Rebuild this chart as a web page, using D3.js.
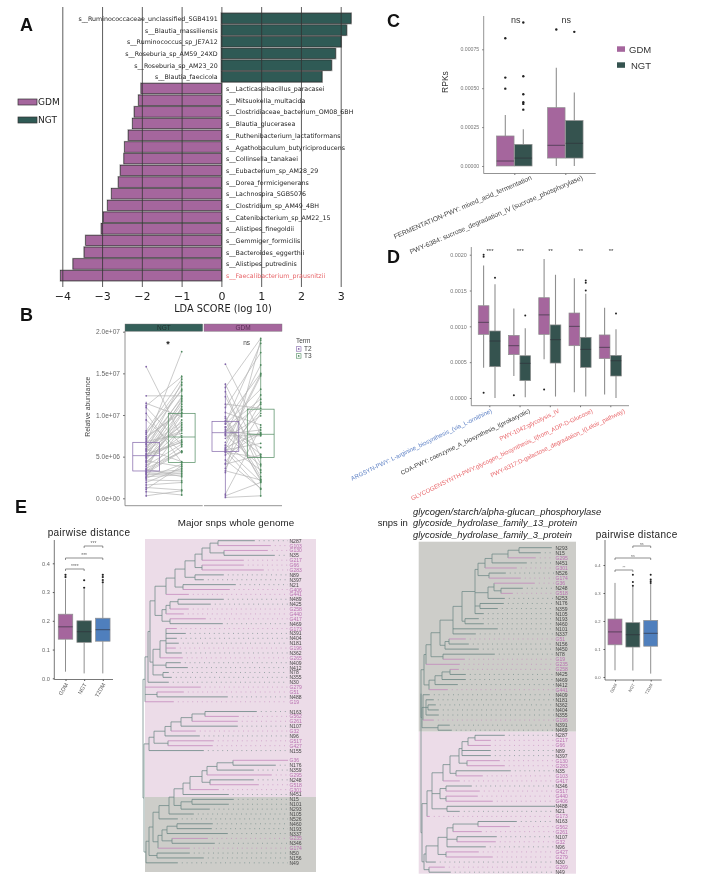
<!DOCTYPE html>
<html><head><meta charset="utf-8">
<script src="https://cdnjs.cloudflare.com/ajax/libs/d3/7.8.5/d3.min.js"></script>
<style>html,body{margin:0;padding:0;background:#fff}svg{display:block;filter:blur(0.4px)}text{font-family:"Liberation Sans",Arial,sans-serif}</style>
</head><body><svg id="c" width="708" height="892"></svg>
<script>
const GDMC="#a5669d",NGTC="#35534f",BLUEC="#4f7fbd",RED="#e8666a";
// Panel A
const ngtTaxa=["s__Ruminococcaceae_unclassified_SGB4191","s__Blautia_massiliensis","s__Ruminococcus_sp_JE7A12","s__Roseburia_sp_AM59_24XD","s__Roseburia_sp_AM23_20","s__Blautia_faecicola"];
const ngtLDA=[3.26,3.15,3.01,2.87,2.77,2.53];
const gdmTaxa=["s__Lacticaseibacillus_paracasei","s__Mitsuokella_multacida","s__Clostridiaceae_bacterium_OM08_6BH","s__Blautia_glucerasea","s__Ruthenibacterium_lactatiformans","s__Agathobaculum_butyriciproducens","s__Collinsella_tanakaei","s__Eubacterium_sp_AM28_29","s__Dorea_formicigenerans","s__Lachnospira_SGB5076","s__Clostridium_sp_AM49_4BH","s__Catenibacterium_sp_AM22_15","s__Alistipes_finegoldii","s__Gemmiger_formicilis","s__Bacteroides_eggerthii","s__Alistipes_putredinis","s__Faecalibacterium_prausnitzii"];
const gdmLDA=[-2.02,-2.08,-2.19,-2.23,-2.34,-2.43,-2.45,-2.54,-2.59,-2.76,-2.86,-2.97,-3.02,-3.41,-3.45,-3.73,-4.04];
const ldaTicks=[-4,-3,-2,-1,0,1,2,3];
// Panel C: [lo,q1,med,q3,hi]
const cGroups=["FERMENTATION-PWY: mixed_acid_fermentation","PWY-6384: sucrose_degradation_IV (sucrose_phosphorylase)"];
const cGDM=[[0,0,.000032,.000193,.000328],[0,.000051,.000133,.000375,.000632]];
const cNGT=[[0,0,.000051,.000139,.000236],[0,.000051,.000146,.000292,.000472]];
const cGDMout=[[.000497,.000568,.000821],[.000877]];
const cNGTout=[[.000362,.000399,.00041,.000461,.000577,.000922],[.000862]];
const cTicks=[0,.00025,.0005,.00075];
// Panel D
const dGroups=["ARGSYN-PWY: L-arginine_biosynthesis_(via_L-ornithine)","COA-PWY: coenzyme_A_biosynthesis_I(prokaryotic)","PWY-1042:glycolysis_IV","GLYCOGENSYNTH-PWY:glycogen_biosynthesis_I(from_ADP-D-Glucose)","PWY-6317:D-galactose_degradation_I(Leloir_pathway)"];
const dColors=["#5b7fc4","#333333",RED,RED,RED];
const dSig=["***","***","**","**","**"];
const dGDM=[[.000423,.000888,.001056,.001288,.00185],[.000307,.000605,.00073,.000874,.00125],[.00054,.000888,.00116,.0014,.00194],[.00008,.00073,.001,.001186,.00167],[.00005,.00055,.000707,.00088,.00126]];
const dNGT=[[0,.000437,.000795,.000935,.001586],[.00001,.000242,.000484,.00059,.000972],[.00002,.000488,.000814,.00102,.00172],[.00002,.000428,.000679,.000847,.001456],[0,.000307,.00052,.000595,.00096]];
const dGDMout=[[.000074,.00197,.002],[.000037],[.00012],[],[]];
const dNGTout=[[.00168],[.00115],[],[.0015,.00161,.00164],[.00118]];
const dTicks=[0,.0005,.001,.0015,.002];
// Panel B (values in millions)
const bNgtT2=[15.8,12.3,11.4,11.1,10.9,8.1,7.7,7.4,7.0,6.8,6.6,6.2,6.0,5.9,5.7,5.6,5.4,5.2,5.1,5.0,4.8,4.6,4.5,4.3,4.1,3.9,3.6,3.4,3.3,3.1,3.0,2.8,2.6,2.4,2.2,1.9,1.6,1.3,0.8,0.3,7.9,7.2,6.5,6.4,5.8,5.3,4.9,4.4,3.8,3.5,3.2,2.9,2.5,1.1,10.2,9.4];
const bNgtT3=[7.3,12.3,9.8,14.6,6.4,14.3,13.6,10.3,13.1,7.8,17.6,9.1,12.2,4.4,11.6,8.7,11.3,7.0,10.7,6.8,8.9,10.2,3.8,8.3,9.4,6.5,5.6,11.0,6.2,3.4,5.6,3.0,2.8,4.1,2.1,3.6,1.9,1.0,0.4,0.9,12.9,10.6,12.0,8.1,13.9,6.7,11.8,7.5,10.0,2.6,5.7,3.2,8.5,3.9,4.3,5.5];
const bGdmT2=[16.1,13.7,13.3,12.8,11.3,10.3,9.6,9.3,9.2,9.0,8.6,8.5,8.1,8.0,7.8,7.7,7.6,7.5,6.3,6.1,6.0,5.8,5.7,5.6,5.5,4.2,4.1,3.3,3.1,0.5,0.3,0.1,12.2,10.9,9.8,8.9,8.3,7.2,6.7,6.4,5.9,5.2,4.6,3.6];
const bGdmT3=[7.7,5.0,19.2,3.1,10.8,8.8,2.1,15.0,2.3,18.6,5.3,11.9,7.6,11.3,16.0,8.2,3.9,7.5,14.7,7.9,2.0,6.6,1.1,10.5,4.9,11.5,5.2,2.2,19.0,8.5,1.9,0.3,4.1,17.5,2.6,13.1,6.1,9.9,14.9,3.4,12.4,7.8,1.2,10.2];
const bBoxes=[[.2,3.28,5.12,6.72,11.6],[.3,4.28,7.36,10.2,14.8],[.1,5.64,7.88,9.24,13.8],[.2,4.88,7.68,10.7,19.2]];
const bTicks=[0,5,10,15,20];
const bTickLabels=["0.0e+00","5.0e+06","1.0e+07","1.5e+07","2.0e+07"];
// Panel E boxes
const eCats=["GDM","NGT","T2DM"];
const eLeft=[[.023,.136,.179,.223,.345],[.017,.125,.162,.2,.31],[.017,.129,.169,.209,.33]];
const eLeftOut=[[.352,.36],[.315,.341],[.334,.342,.352,.36]];
const eRight=[[.024,.115,.161,.207,.336],[.023,.107,.151,.194,.324],[.012,.11,.156,.202,.333]];
const eRightOut=[[],[.326,.339,.365],[.336,.342,.348,.365]];
const eTicks=[0,.1,.2,.3,.4];
const eLeftSig=["****","***","***"], eRightSig=["**","ns","ns"];
// Trees: label:divergence from root
const lA=`((N287:111,G103:127):75,(G130:124,N35:131):81):67`;
const lB=`((${lA},G217:100):59,(G66:100,G283:120):59):52`;
const lC=`(${lB},(N89:80,N397:60):52):42`;
const lD=`((${lC},(N21:92,G406:86):40):32,G441:45):23`;
const lE=`((((N489:80,N425:67):35,G258:45):27,G440:40):23,(G417:62,N469:79):27):19`;
const lF=`((${lD},${lE}):12,(((G173:33,N391:42,N404:33,N181:35,G196:32,N362:38):23,G265:39):17,(N409:37,N412:44):23,(N78:25,N355:28):20):10):7`;
const lG1=`((${lF},N30:25):5,G279:57,(G51:40,N488:84):14,G19:30):2`;
const lG2=`(((((((N163:113,G562:95):62,G261:94):49,N107:94):38,G32:52):28,N96:56):22,(G517:70,G427:69):25):11,N155:60):6`;
const lG3a=`(((((((G36:145,N176:132):90,N359:110):74,G295:128):64,(N248:110,G518:115):67):59,G301:75):47,N451:85):40,((N15:90,N101:85):49,N293:66):38):31`;
const lG3b=`(((${lG3a},N105:50):26,N526:34):16,((((N460:69,N193:68):34,N337:84):24,(G235:64,N346:71):29):19,G174:46):15):10`;
const lG3=`((${lG3b},(N50:46,N156:60):14):6,N49:34):3`;
const leftTree=`(${lG1},(${lG2},${lG3}):1):0`;
const leftGaps=["G19","N155"];
const rA=`(((N293:130,N15:119):98,G295:114):87,N451:105):71`;
const rC=`((${rA},G301:95):64,(N526:84,G174:99):68):57`;
const rD=`((G36:113,(N248:101,G518:91):80):73,N253:83):67`;
const rE=`(${rC},${rD},(N176:82,N359:76):59,N105:62):54`;
const rF=`(${rE},(N193:57,N460:62):44):41`;
const rG=`(${rF},N101:76,N337:54):32`;
const rH=`(${rG},((G51:44,N156:47):28,N450:57):24):19`;
const rJ=`((${rH},(N78:73,G19:43):22):10,G235:38):5`;
const rK=`((((G258:37,N425:44):29,N469:44):21,N412:36):14,G441:26):8`;
const rL=`(N409:8,(N181:12,(N362:14,N404:17):7,N355:17):5,G196:12):2`;
const rM=`(N391:28,N469:30):17`;
const rX=`(((N287:83,G217:69):54,G66:69):47,N89:69,N397:69):41`;
const rP=`((((${rX},(G130:78,G283:83):46):38,(N35:89,G103:61):35):29,G417:38):22`+`,((N346:50,G517:58):25,(G440:56,G406:71):25):19,(N488:134,N21:38):26):11`;
const rS=`((((N163:95,G562:88):57,G261:60):32,(N107:75,G32:74):36,N96:64):26,(G427:57,G279:71):25):17`;
const rightTree=`(((${rJ},${rK}):3,(${rL},${rM}):1):0,((${rP},G173:8):6,((${rS},N30:14):5,(G269:23,N49:29):8):3):1):0`;

const svg=d3.select("#c");
function txt(x,y,s,size,o={}){const t=svg.append("text").attr("x",x).attr("y",y).attr("font-size",size).attr("fill",o.fill||"#222").attr("text-anchor",o.anchor||"start").attr("dominant-baseline","central").text(s);
 if(o.weight)t.attr("font-weight",o.weight);if(o.style)t.attr("font-style",o.style);if(o.family)t.style("font-family",o.family);if(o.rot!=null)t.attr("transform",`rotate(${o.rot} ${x} ${y})`);if(o.ls)t.attr("letter-spacing",o.ls);return t;}
function axisStyle(g,c,w){g.selectAll(".domain").attr("stroke",c).attr("stroke-width",w);g.selectAll("line").attr("stroke",c);}
function box(x,w,s,y,fill,outs,o={}){const sw=o.sw||1.1,wc=o.wc||"#8f8f8f";
 const g=svg.append("g");
 g.append("line").attr("x1",x).attr("x2",x).attr("y1",y(s[0])).attr("y2",y(s[1])).attr("stroke",wc).attr("stroke-width",sw);
 g.append("line").attr("x1",x).attr("x2",x).attr("y1",y(s[3])).attr("y2",y(s[4])).attr("stroke",wc).attr("stroke-width",sw);
 g.append("rect").attr("x",x-w/2).attr("width",w).attr("y",y(s[3])).attr("height",y(s[1])-y(s[3])).attr("fill",fill).attr("stroke",o.bc||"#8f8f8f").attr("stroke-width",.7);
 g.append("line").attr("x1",x-w/2).attr("x2",x+w/2).attr("y1",y(s[2])).attr("y2",y(s[2])).attr("stroke",o.mc||"#2f2f38").attr("stroke-width",.8).attr("opacity",.8);
 g.selectAll("circle").data(outs||[]).join("circle").attr("cx",x).attr("cy",d=>y(d)).attr("r",o.r||1.2).attr("fill","#222");
}
// Letters
[["A",20,25],["B",20,315],["C",387,21],["D",387,257],["E",15,507]].forEach(d=>txt(d[1],d[2],d[0],18,{weight:"bold",fill:"#111"}));

// ===== A
{const x=d3.scaleLinear().domain([-4,3]).range([62.3,340.7]);
 const rows=[...ngtTaxa,...gdmTaxa];
 const y=d3.scaleBand().domain(rows).range([13.2,280.8]).paddingInner(.12);
 const vals=[...ngtLDA,...gdmLDA];
 svg.append("g").selectAll("rect").data(rows).join("rect").attr("x",(d,i)=>x(Math.min(0,vals[i]))).attr("width",(d,i)=>Math.abs(x(vals[i])-x(0))).attr("y",d=>y(d)).attr("height",y.bandwidth()).attr("fill","none").attr("stroke","#a8a8a8").attr("stroke-width",1.9);
 svg.append("g").selectAll("rect").data(rows).join("rect").attr("x",(d,i)=>x(Math.min(0,vals[i]))).attr("width",(d,i)=>Math.abs(x(vals[i])-x(0))).attr("y",d=>y(d)).attr("height",y.bandwidth()).attr("fill",(d,i)=>vals[i]>0?"#2f5a55":"#a5669d").attr("stroke","#222").attr("stroke-width",.5);
 const ax=d3.axisBottom(x).tickValues(ldaTicks).tickSize(280).tickFormat(d=>d<0?"\u2212"+(-d):d);
 const g=svg.append("g").attr("transform","translate(0,7)").call(ax);
 g.select(".domain").remove();
 g.selectAll("line").attr("stroke","#333").attr("stroke-width",.8);
 g.selectAll("text").attr("font-size",11).attr("fill","#222").attr("dy",0).attr("y",293).style("font-family","DejaVu Sans");
 rows.forEach((r,i)=>{const neg=vals[i]<0;txt(neg?226:217.7,y(r)+y.bandwidth()/2,r,6.3,{anchor:neg?"start":"end",fill:r.includes("Faecali")?RED:"#222",family:"DejaVu Sans"});});
 [["GDM","#a5669d",102],["NGT","#2f5a55",120]].forEach(d=>{svg.append("rect").attr("x",18).attr("y",d[2]-3).attr("width",19).attr("height",6).attr("fill",d[1]).attr("stroke","#333").attr("stroke-width",.7);txt(38,d[2],d[0],9,{family:"DejaVu Sans"});});
 txt(223,308,"LDA SCORE (log 10)",9.8,{anchor:"middle",family:"DejaVu Sans",fill:"#222"});
}
// ===== B
{const y=d3.scaleLinear().domain([0,20]).range([498.3,331.7]);
 const panels=[{n:"NGT",c:"#35605a",x0:125,x1:202.7,t2:146.2,t3:181.7,a:bNgtT2,b:bNgtT3,bx:[bBoxes[0],bBoxes[1]]},{n:"GDM",c:"#a5669d",x0:204,x1:282,t2:225.4,t3:260.7,a:bGdmT2,b:bGdmT3,bx:[bBoxes[2],bBoxes[3]]}];
 const P="#8064a8",G="#4f8a5f";
 panels.forEach(p=>{
  svg.append("rect").attr("x",p.x0).attr("y",324).attr("width",p.x1-p.x0).attr("height",7.3).attr("fill",p.c).attr("stroke","#777").attr("stroke-width",.4);
  txt((p.x0+p.x1)/2,327.8,p.n,6.5,{anchor:"middle",fill:p.n=="NGT"?"#1f2f2d":"#5a2f55"});
  svg.append("line").attr("x1",p.x0).attr("x2",p.x1).attr("y1",505.7).attr("y2",505.7).attr("stroke","#777").attr("stroke-width",.8);
  const gl=svg.append("g");
  gl.selectAll("line").data(p.a).join("line").attr("x1",p.t2).attr("x2",p.t3).attr("y1",d=>y(d)).attr("y2",(d,i)=>y(p.b[i])).attr("stroke","#b4b4b4").attr("stroke-width",.7);
  [[p.t2,p.bx[0],P,p.a],[p.t3,p.bx[1],G,p.b]].forEach(q=>{const s=q[1],w=26.8,g=svg.append("g").attr("fill","none").attr("stroke",q[2]).attr("stroke-width",.7);
   g.append("line").attr("x1",q[0]).attr("x2",q[0]).attr("y1",y(s[0])).attr("y2",y(s[1]));
   g.append("line").attr("x1",q[0]).attr("x2",q[0]).attr("y1",y(s[3])).attr("y2",y(s[4]));
   g.append("rect").attr("x",q[0]-w/2).attr("width",w).attr("y",y(s[3])).attr("height",y(s[1])-y(s[3]));
   g.append("line").attr("x1",q[0]-w/2).attr("x2",q[0]+w/2).attr("y1",y(s[2])).attr("y2",y(s[2]));
   svg.append("g").selectAll("circle").data(q[3]).join("circle").attr("cx",q[0]).attr("cy",d=>y(d)).attr("r",.9).attr("fill",q[2]);
  });
 });
 const ax=d3.axisLeft(y).tickValues(bTicks).tickFormat((d,i)=>bTickLabels[i]).tickSize(2);
 const g=svg.append("g").attr("transform","translate(125,0)").call(ax);
 g.select(".domain").attr("d","M0,331V505.7");axisStyle(g,"#777",.8);
 g.selectAll("text").attr("font-size",6.6).attr("fill","#666");
 txt(88,406.7,"Relative abundance",6.8,{anchor:"middle",rot:-90,fill:"#444"});
 txt(168,344,"*",9,{anchor:"middle",weight:"bold"});txt(246.7,342.5,"ns",6.5,{anchor:"middle",fill:"#444"});
 txt(296,340.7,"Term",6.5,{fill:"#444"});
 [["T2",P,348.7],["T3",G,355.7]].forEach(d=>{svg.append("rect").attr("x",296.5).attr("y",d[2]-2).attr("width",4.5).attr("height",4.5).attr("fill","#fff").attr("stroke",d[1]).attr("stroke-width",.6);
  svg.append("circle").attr("cx",298.7).attr("cy",d[2]+.2).attr("r",.9).attr("fill",d[1]);txt(304,d[2],d[0],6.5,{fill:"#444"});});
}
// ===== C
{const y=d3.scaleLinear().domain([0,.00075]).range([166,49.3]);
 const x=d3.scalePoint().domain(cGroups).range([514.3,565.3]);
 cGroups.forEach((c,i)=>{box(x(c)-9,17.5,cGDM[i],y,GDMC,cGDMout[i]);box(x(c)+9,17.5,cNGT[i],y,NGTC,cNGTout[i]);});
 const g=svg.append("g").attr("transform","translate(483.7,0)").call(d3.axisLeft(y).tickValues(cTicks).tickFormat(d3.format(".5f")).tickSize(1.5));
 g.select(".domain").attr("d","M0,16V173.5");axisStyle(g,"#777",.8);g.selectAll("text").attr("font-size",5.2).attr("fill","#777");
 const gx=svg.append("g").attr("transform","translate(0,173.5)").call(d3.axisBottom(x).tickSize(1.5).tickFormat(""));
 gx.select(".domain").attr("d","M483.7,0H595.7");axisStyle(gx,"#777",.8);
 cGroups.forEach(c=>txt(x(c)+17,177,c,6.8,{anchor:"end",rot:-23.5,fill:"#444"}));
 txt(445,82,"RPKs",8.5,{anchor:"middle",rot:-90,fill:"#333"});
 txt(515.7,20,"ns",9,{anchor:"middle",fill:"#333"});txt(566.3,20,"ns",9,{anchor:"middle",fill:"#333"});
 [["GDM",GDMC,49,629],["NGT",NGTC,65,631]].forEach(d=>{svg.append("rect").attr("x",617).attr("y",d[2]-2.7).attr("width",8).attr("height",5.5).attr("fill",d[1]);txt(d[3],d[2],d[0],9.5,{fill:"#333"});});
}
// ===== D
{const y=d3.scaleLinear().domain([0,.002]).range([398,254.7]);
 const x=d3.scalePoint().domain(dGroups).range([489.3,610.3]);
 dGroups.forEach((c,i)=>{box(x(c)-5.7,10.7,dGDM[i],y,GDMC,dGDMout[i],{r:1});box(x(c)+5.7,10.7,dNGT[i],y,NGTC,dNGTout[i],{r:1});txt(x(c)+.7,250.5,dSig[i],6,{anchor:"middle",fill:"#333"});});
 const g=svg.append("g").attr("transform","translate(471.3,0)").call(d3.axisLeft(y).tickValues(dTicks).tickFormat(d3.format(".4f")).tickSize(1.5));
 g.select(".domain").attr("d","M0,247V405.7");axisStyle(g,"#777",.8);g.selectAll("text").attr("font-size",5.4).attr("fill","#777");
 const gx=svg.append("g").attr("transform","translate(0,405.7)").call(d3.axisBottom(x).tickSize(1.5).tickFormat(""));
 gx.select(".domain").attr("d","M471.3,0H629");axisStyle(gx,"#777",.8);
 dGroups.forEach((c,i)=>txt(x(c)+[2,10,9,12,14][i],410,c,6.1,{anchor:"end",rot:-26,fill:dColors[i]}));
}
// ===== E boxes
function ePanel(o){const y=d3.scaleLinear().domain([0,.4]).range(o.yr);
 const x=d3.scalePoint().domain(eCats).range(o.xr);
 const cols=[GDMC,NGTC,BLUEC];
 eCats.forEach((c,i)=>box(x(c),o.w,o.data[i],y,cols[i],o.out[i],{r:o.r,sw:1}));
 const g=svg.append("g").attr("transform",`translate(${o.ax},0)`).call(d3.axisLeft(y).tickValues(eTicks).tickFormat(d3.format(".1f")).tickSize(1.5));
 g.select(".domain").attr("d",`M0,${o.top}V${o.bot}`);axisStyle(g,"#555",.8);g.selectAll("text").attr("font-size",o.fs).attr("fill","#666");
 const gx=svg.append("g").attr("transform",`translate(0,${o.bot})`).call(d3.axisBottom(x).tickSize(1.5).tickFormat(""));
 gx.select(".domain").attr("d",`M${o.ax},0H${o.axEnd}`);axisStyle(gx,"#555",.8);
 eCats.forEach(c=>txt(x(c)+1,o.bot+4,c,o.fs,{anchor:"end",rot:-60,fill:"#555"}));
 o.br.forEach((b,i)=>{const x1=x(eCats[b[0]]),x2=x(eCats[b[1]]),yy=b[2];
  svg.append("path").attr("d",`M${x1},${yy+2}V${yy}H${x2}V${yy+2}`).attr("fill","none").attr("stroke","#444").attr("stroke-width",.6);
  txt((x1+x2)/2,yy-2.2,o.sig[i],o.fs-.7,{anchor:"middle",fill:"#666"});});
 txt(o.tx,o.ty,"pairwise distance",o.ts,{fill:"#222",ls:o.ls});
}
ePanel({yr:[678.3,563.3],xr:[65.5,102.8],w:14.5,data:eLeft,out:eLeftOut,r:1.1,ax:54.3,axEnd:113,top:540,bot:679.5,fs:5.6,br:[[0,1,569],[0,2,558],[1,2,546]],sig:eLeftSig,tx:47.7,ty:532,ts:10,ls:.35});
ePanel({yr:[677,565],xr:[615,650.7],w:14,data:eRight,out:eRightOut,r:1,ax:605,axEnd:661.7,top:540,bot:680,fs:4.2,br:[[0,1,570],[0,2,558],[1,2,546]],sig:eRightSig,tx:595.7,ty:534,ts:10,ls:.3});
// ===== Trees
function parseNewick(s){let i=0;function node(){const n={};if(s[i]=="("){n.children=[];i++;while(true){n.children.push(node());if(s[i]==","){i++;continue;}i++;break;}}
 let st=i;while(i<s.length&&!":,()".includes(s[i]))i++;n.name=s.slice(st,i);if(s[i]==":"){i++;st=i;while(i<s.length&&!",()".includes(s[i]))i++;n.div=+s.slice(st,i);}return n;}return node();}
function drawTree(o){const root=d3.hierarchy(parseNewick(o.tree));
 const x=d3.scaleLinear().domain(o.xd).range(o.xr);
 const rowY=d3.scaleLinear().domain([0,o.rows-1]).range(o.yr);
 let r=0;root.leaves().forEach(l=>{l.row=r++;if(o.gaps&&o.gaps.includes(l.data.name))r++;});
 root.eachAfter(n=>{if(n.children)n.row=(n.children[0].row+n.children[n.children.length-1].row)/2;});
 const GR="#6f8a87",PK="#c184ba";
 const col=n=>n.children?GR:(n.data.name[0]=="G"?PK:"#63807d");
 const g=svg.append("g").attr("fill","none").attr("stroke-width",.75);
 root.descendants().forEach(n=>{const nx=x(n.data.div||0),ny=rowY(n.row);
  if(n.parent){g.append("line").attr("x1",x(n.parent.data.div||0)).attr("x2",nx).attr("y1",ny).attr("y2",ny).attr("stroke",col(n));}
  if(n.children){g.append("line").attr("x1",nx).attr("x2",nx).attr("y1",rowY(n.children[0].row)).attr("y2",rowY(n.children[n.children.length-1].row)).attr("stroke",GR);}
  else{g.append("line").attr("x1",nx).attr("x2",o.xr[1]).attr("y1",ny).attr("y2",ny).attr("stroke",col(n)).attr("stroke-dasharray","1 3.8").attr("stroke-opacity",.8);
   txt(o.xr[1]+1.5,ny,n.data.name,5,{fill:n.data.name[0]=="G"?"#b870b0":"#444",family:"Liberation Sans"});}
 });
}
svg.append("rect").attr("x",145).attr("y",539).attr("width",171).attr("height",258).attr("fill","#ecdce8");
svg.append("rect").attr("x",145).attr("y",797).attr("width",171).attr("height",75).attr("fill","#cdcdc9");
svg.append("rect").attr("x",418.7).attr("y",541.7).attr("width",157.3).attr("height",190).attr("fill","#cdcdc9");
svg.append("rect").attr("x",418.7).attr("y",731.7).attr("width",157.3).attr("height",142).attr("fill","#ecdce8");
drawTree({tree:leftTree,xd:[0,145],xr:[143,288],rows:68,yr:[540.7,867.7],gaps:leftGaps});
drawTree({tree:rightTree,xd:[0,133],xr:[421,554],rows:65,yr:[547.7,872.2]});
txt(236,522.7,"Major snps whole genome",9.8,{anchor:"middle",fill:"#222",ls:.1});
txt(377.7,522.7,"snps in",9.5,{fill:"#222"});
["glycogen/starch/alpha-glucan_phosphorylase","glycoside_hydrolase_family_13_protein","glycoside_hydrolase_family_3_protein"].forEach((s,i)=>txt(413,511+i*11.5,s,9.4,{style:"italic",fill:"#222"}));
</script></body></html>
